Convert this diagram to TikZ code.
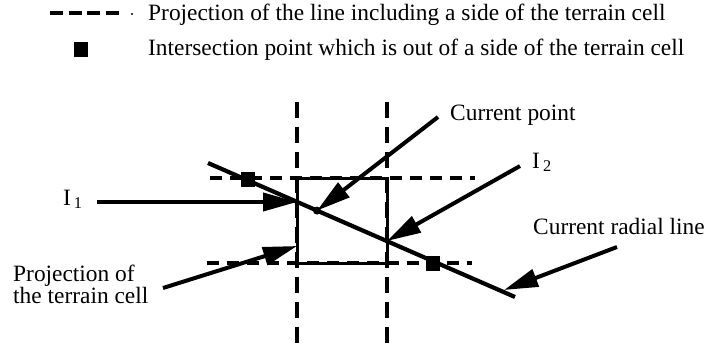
\documentclass[tikz,border=0pt]{standalone}
\usepackage{fontspec}
\setmainfont{Liberation Serif}
\usetikzlibrary{arrows.meta}
\begin{document}
\begin{tikzpicture}[x=1pt,y=-1pt,
  lbl/.style={anchor=base west,inner sep=0pt,font=\fontsize{23.4}{22}\selectfont,align=left},
  hdash/.style={line width=3.2pt,dash pattern=on 12pt off 8pt},
  vdash/.style={line width=3.2pt,dash pattern=on 16pt off 9pt},
  cellbox/.style={line width=3pt},
  radial/.style={line width=4.2pt},
  arr/.style={line width=4pt,-{Triangle[length=34pt,width=18pt]}},
  marker/.style={fill=black,minimum width=14pt,minimum height=15pt,inner sep=0pt,draw=none}]
\useasboundingbox (0,0) rectangle (708,351);
% legend
\draw[line width=3.2pt,dash pattern=on 13pt off 5.5pt] (50,13) -- (119,13);
\fill (132,14) circle (1.2pt);
\node[lbl] (leg1) at (148,20) {Projection of the line including a side of the terrain cell};
\node[marker] (legm) at (81,49) {};
\node[lbl] (leg2) at (148,55) {Intersection point which is out of a side of the terrain cell};
% projection lines
\draw[vdash] (297,102) -- (297,347);
\draw[vdash] (387,102) -- (387,347);
\draw[hdash] (210,178) -- (475,178);
\draw[hdash] (207,263) -- (472,263);
% terrain cell
\draw[cellbox] (297,178) rectangle (387,263);
% radial line
\coordinate (R1) at (208,163);
\coordinate (R2) at (515,297);
\draw[radial] (R1) -- (R2);
\node[marker] (m1) at (248,179) {};
\node[marker] (m2) at (433,263) {};
% points
\coordinate (p1) at (297,202);
\coordinate (p2) at (387,241);
\coordinate (cp) at (317,210.6);
\fill (cp) circle (4pt);
% labels
\node[lbl] (i1) at (63,205) {I\kern3pt\textsubscript{1}};
\node[lbl] (cpl) at (450,120) {Current point};
\node[lbl] (i2) at (532,168) {I\kern3pt\textsubscript{2}};
\node[lbl] (crl) at (533,234) {Current radial line};
\node[lbl] (pjl) at (13,303) {Projection of\\the terrain cell};
% arrow start points
\coordinate (i1s) at (97,202);
\coordinate (cps) at (438,117);
\coordinate (i2s) at (520,166);
\coordinate (crs) at (617,247);
\coordinate (crt) at (504,290);
\coordinate (pjs) at (163,288);
\coordinate (pje) at (297,246);
% arrows
\draw[arr] (i1s) -- (p1);
\draw[arr] (cps) -- (cp);
\draw[arr] (i2s) -- (p2);
\draw[arr] (crs) -- (crt);
\draw[arr] (pjs) -- (pje);
\end{tikzpicture}
\end{document}
